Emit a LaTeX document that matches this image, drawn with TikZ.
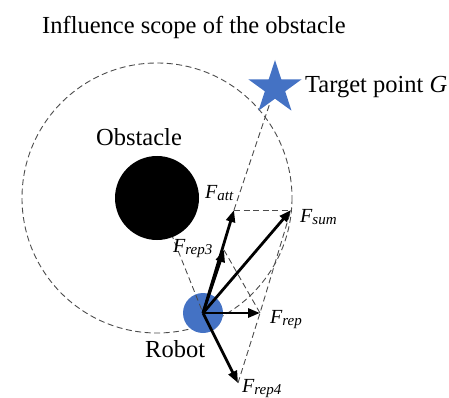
\documentclass[tikz,border=0pt]{standalone}
\usepackage{fontspec}
\setmainfont{Liberation Serif}
\usetikzlibrary{arrows.meta}
\definecolor{robotblue}{HTML}{4472C4}
\newcommand\flab[1]{{\fontsize{20}{20}\selectfont\itshape F}\raisebox{-2.5pt}{\fontsize{15}{15}\selectfont\itshape #1}}
\begin{document}
\begin{tikzpicture}[x=1pt,y=-1pt,
  guide/.style={draw=black!70, line width=0.9pt, dash pattern=on 6pt off 3.5pt},
  force/.style={line width=2.8pt, -{Triangle[length=12pt,width=9pt]}},
  lbl/.style={inner sep=0, anchor=base west, font=\fontsize{24.5}{26}\selectfont},
  flbl/.style={inner sep=0, anchor=base west}]
\useasboundingbox (0,0) rectangle (449,398);
\coordinate (O) at (157,198);
\coordinate (R) at (203,313);
\coordinate (G) at (275,88);
\coordinate (A) at (234,210);
\coordinate (S) at (291,210);
\coordinate (P3) at (224,250);
\coordinate (F) at (260,313);
\coordinate (P4) at (238,383);

\draw[guide] (O) circle[radius=135];
\draw[guide] (A) -- (G);
\draw[guide] (A) -- (S);
\draw[guide] (P3) -- (F);
\draw[guide] (P4) -- (F) -- (S);
\fill[robotblue] (R) circle[radius=20];
\draw[guide] (O) -- (R);
\fill[black] (O) circle[radius=42];
\fill[robotblue, shift={(G)}] (-90:28) -- (-54:10.7) -- (-18:28) -- (18:10.7) -- (54:28) -- (90:10.7) -- (126:28) -- (162:10.7) -- (198:28) -- (234:10.7) -- cycle;

\draw[force] (R) -- (A);
\draw[force] (R) -- (P3);
\draw[force] (R) -- (S);
\draw[force] (R) -- (F);
\draw[force] (R) -- (P4);

\node[lbl] (title) at (42,34) {Influence scope of the obstacle};
\node[lbl] (target) at (305,93) {Target point \textit{G}};
\node[lbl] (obs) at (96,146) {Obstacle};
\node[lbl] (rob) at (145,357) {Robot};
\node[flbl] (fatt) at (205,198) {\flab{att}};
\node[flbl] (fsum) at (300,222) {\flab{sum}};
\node[flbl] (frep3) at (173,252) {\flab{rep3}};
\node[flbl] (frep) at (270,323) {\flab{rep}};
\node[flbl] (frep4) at (242,392) {\flab{rep4}};
\end{tikzpicture}
\end{document}
